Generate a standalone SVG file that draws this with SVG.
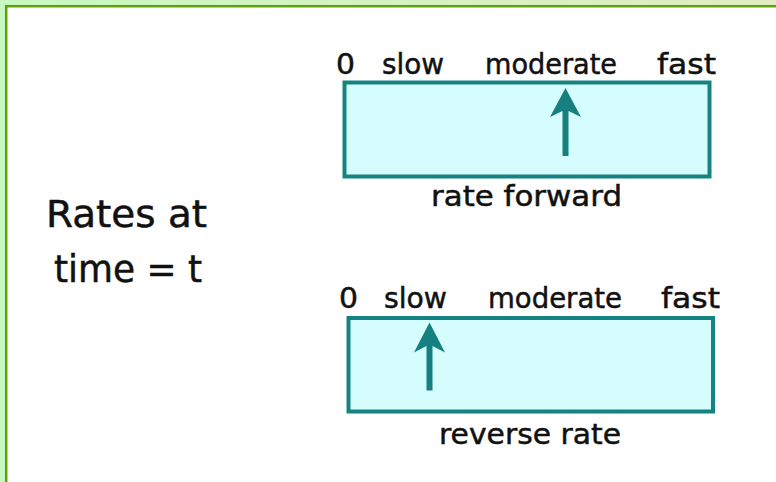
<svg xmlns="http://www.w3.org/2000/svg" width="776" height="482" viewBox="0 0 776 482">
  <defs>
    <linearGradient id="bg" x1="0" y1="0" x2="1" y2="0">
      <stop offset="0" stop-color="#c8f9c0"/>
      <stop offset="1" stop-color="#e2ecc2"/>
    </linearGradient>
  </defs>
  <style>
    .lbl { font-family: "DejaVu Sans", "Liberation Sans", sans-serif; font-size: 29px; fill: #111; stroke: #111; stroke-width: 0.5; }
    .big { font-family: "DejaVu Sans", "Liberation Sans", sans-serif; font-size: 37px; fill: #111; stroke: #111; stroke-width: 0.5; }
    .bar { fill: #d5fdfd; stroke: #168383; stroke-width: 4; }
    .ind { fill: #168080; }
  </style>
  <rect x="0" y="0" width="776" height="482" fill="url(#bg)"/>
  <rect x="6.2" y="6.2" width="800" height="500" fill="#ffffff" stroke="#5fa205" stroke-width="2.5"/>

  <g id="title">
    <text class="big" x="46" y="227" textLength="161" lengthAdjust="spacingAndGlyphs">Rates at</text>
    <text class="big" x="54" y="282" textLength="148" lengthAdjust="spacingAndGlyphs">time = t</text>
  </g>

  <g id="forward">
    <text class="lbl" x="336" y="74" textLength="19" lengthAdjust="spacingAndGlyphs">0</text>
    <text class="lbl" x="382" y="74" textLength="62" lengthAdjust="spacingAndGlyphs">slow</text>
    <text class="lbl" x="485" y="74" textLength="132" lengthAdjust="spacingAndGlyphs">moderate</text>
    <text class="lbl" x="657" y="74" textLength="59" lengthAdjust="spacingAndGlyphs">fast</text>
    <rect class="bar" x="344.5" y="82.5" width="365" height="94"/>
    <text class="lbl" x="431" y="206" textLength="191" lengthAdjust="spacingAndGlyphs">rate forward</text>
  </g>

  <g id="reverse">
    <text class="lbl" x="339" y="308" textLength="19" lengthAdjust="spacingAndGlyphs">0</text>
    <text class="lbl" x="384" y="308" textLength="63" lengthAdjust="spacingAndGlyphs">slow</text>
    <text class="lbl" x="488" y="308" textLength="134" lengthAdjust="spacingAndGlyphs">moderate</text>
    <text class="lbl" x="661" y="308" textLength="59" lengthAdjust="spacingAndGlyphs">fast</text>
    <rect class="bar" x="348.5" y="318" width="364.5" height="93.5"/>
    <text class="lbl" x="439" y="444" textLength="182" lengthAdjust="spacingAndGlyphs">reverse rate</text>
  </g>

  <g id="connectors">
    <polygon class="ind" points="565.5,88 581,117 568.5,111 568.5,156 562.5,156 562.5,111 550,117"/>
    <polygon class="ind" points="429.5,322.5 445,352.5 432.5,346 432.5,390.5 426.5,390.5 426.5,346 414,352.5"/>
  </g>
</svg>
